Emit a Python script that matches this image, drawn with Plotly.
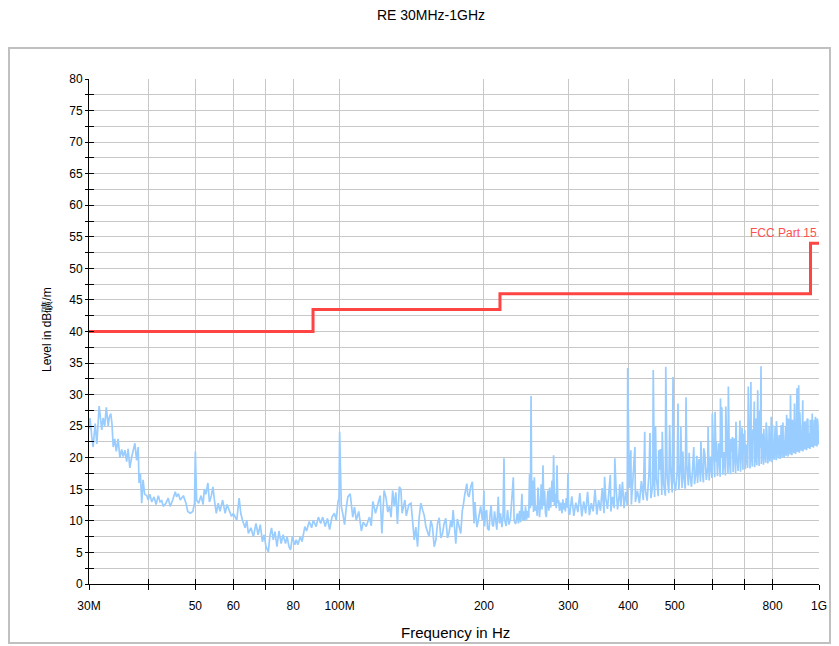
import math
import plotly.graph_objects as go

# ---------------- data ----------------
# 30 - 100 MHz
freq_a = [30.0, 30.15, 30.4, 30.6, 30.9, 31.15, 31.5, 31.75, 31.9, 32.1, 32.35, 32.6, 32.9, 33.05, 33.3, 33.5,
          33.7, 33.95, 34.2, 34.5, 34.8, 35.1, 35.35, 35.65, 35.95, 36.2, 36.5, 36.8, 37.1, 37.4, 37.7, 38.0,
          38.15, 38.4, 38.65, 38.9, 39.2, 39.6, 39.85, 40.2, 40.55, 41.0, 41.4, 41.85, 42.2, 42.55, 42.85,
          43.4, 43.9, 44.3, 44.85, 45.4, 45.7, 46.1, 46.5, 47.2, 47.8, 48.2, 48.8, 49.4, 49.8, 50.0, 50.3,
          50.8, 51.4, 51.9, 52.2, 52.6, 53.1, 53.5, 54.0, 54.4, 54.8, 55.3, 55.8, 56.3, 57.0, 57.7, 58.2,
          58.9, 59.5, 60.0, 61.0, 61.7, 62.2, 62.7, 63.5, 64.0, 64.5, 65.3, 66.1, 66.9, 67.6, 68.3, 69.0,
          69.6, 70.2, 71.0, 71.5, 72.1, 72.7, 73.3, 74.0, 74.7, 75.5, 76.2, 77.1, 77.7, 78.4, 79.0, 79.7,
          80.6, 81.2, 81.8, 82.8, 83.5, 84.6, 85.3, 86.4, 87.4, 88.1, 89.3, 90.3, 91.3, 92.2, 93.3, 94.3,
          95.3, 96.4, 97.5, 98.4, 99.2, 99.7, 100.0]
level_a = [24.6, 26.3, 23.4, 21.7, 25.4, 22.2, 28.2, 25.0, 24.4, 26.3, 25.0, 28.0, 25.0, 26.3, 27.0, 25.4,
           21.7, 23.0, 21.0, 23.0, 20.0, 21.3, 20.2, 21.2, 19.4, 21.4, 18.4, 20.0, 21.0, 22.3, 19.6, 21.7,
           16.0, 17.5, 12.8, 16.5, 14.2, 14.0, 13.3, 14.2, 13.0, 13.8, 12.6, 14.0, 13.0, 13.2, 12.3,
           12.8, 13.6, 12.3, 13.3, 14.6, 13.8, 14.3, 13.3, 14.0, 12.8, 11.5, 11.2, 11.5, 12.8, 21.0, 13.3,
           12.8, 14.0, 12.6, 15.0, 14.2, 16.0, 13.0, 14.0, 15.4, 13.3, 11.2, 12.8, 11.5, 13.3, 11.2, 12.6,
           11.5, 10.7, 11.2, 10.1, 13.6, 11.2, 10.1, 8.9, 10.1, 8.0, 8.9, 7.5, 9.6, 7.8, 9.4, 6.7,
           7.8, 5.9, 5.1, 7.5, 8.9, 7.0, 8.3, 5.9, 8.4, 6.4, 7.8, 6.4, 7.5, 5.9, 5.4, 7.5,
           6.2, 7.0, 6.2, 7.5, 6.7, 9.1, 8.4, 9.9, 8.9, 10.1, 9.1, 10.6, 9.6, 10.6, 9.1, 10.4,
           8.6, 10.6, 11.2, 10.1, 13.0, 13.6, 24.1]

# 100 - 200 MHz
freq_b = [100.8, 101.6, 102.4, 103.2, 104.0, 105.2, 106.5, 107.4, 108.3, 109.6, 111.0, 112.0, 113.6, 115.4,
          116.4, 117.3, 118.8, 120.5, 121.5, 122.5, 123.8, 125.0, 126.0, 127.0, 128.0, 129.0, 130.0, 131.0,
          132.0, 133.2, 134.2, 135.0, 136.0, 136.8, 137.7, 138.6, 139.5, 140.9, 142.0, 143.1, 144.2, 145.4,
          146.5, 147.7, 149.0, 150.2, 151.3, 152.5, 153.7, 155.0, 156.2, 157.5, 158.8, 160.0, 161.3, 162.6,
          163.9, 165.2, 166.5, 167.9, 169.2, 170.6, 171.5, 172.5, 173.6, 174.7, 176.0, 177.5, 178.9, 180.3,
          181.0, 182.5, 184.2, 185.0, 186.2, 187.7, 189.2, 190.7, 191.5, 192.2, 193.4, 194.6, 195.8, 196.9,
          198.5, 199.2]
level_b = [12.3, 11.0, 9.4, 12.0, 13.8, 14.3, 10.6, 12.2, 10.1, 11.5, 8.4, 9.8, 9.1, 10.6,
           9.2, 13.1, 11.2, 13.0, 14.0, 8.0, 14.8, 13.6, 11.4, 12.3, 10.6, 14.8, 12.3, 14.5,
           9.5, 15.4, 15.0, 11.2, 12.6, 13.3, 10.8, 11.7, 12.6, 12.8, 10.1, 7.0, 9.0, 5.9,
           10.5, 12.8, 11.7, 10.8, 9.1, 8.3, 7.5, 10.1, 9.0, 5.9, 7.0, 9.6, 10.5, 7.3,
           8.0, 9.6, 10.4, 7.3, 8.2, 10.1, 9.0, 11.7, 8.5, 6.4, 10.3, 9.1, 8.0, 11.7,
           12.3, 14.3, 15.9, 14.2, 13.8, 15.4, 16.2, 9.6, 13.0, 11.2, 9.0, 10.1, 11.0, 12.3,
           10.1, 11.2]

# 200 - 300 MHz
freq_c = [200.0, 200.6, 201.5, 202.6, 203.5, 204.9, 206.0, 207.0, 208.2, 209.3, 210.4, 211.5, 212.8, 214.2,
          215.4, 216.6, 218.0, 219.2, 220.2, 221.0, 222.5, 224.0, 225.5, 227.2, 228.5, 230.3, 231.2, 232.8,
          234.8, 236.0, 237.4, 238.6, 240.0, 241.0, 242.0, 243.2, 244.2, 245.5, 246.6, 248.0, 249.0, 250.0,
          250.8, 251.6, 252.8, 253.8, 254.8, 256.0, 257.3, 258.3, 259.3, 260.2, 261.2, 262.2, 263.3, 264.4,
          265.6, 266.6, 267.6, 268.8, 269.9, 271.0, 272.0, 273.2, 274.2, 275.6, 277.3, 278.4, 279.5, 280.6,
          281.8, 283.0, 284.1, 285.2, 286.3, 287.5, 289.0, 291.0, 292.2, 293.3, 294.5, 295.7, 297.0, 298.3,
          299.5, 300.5]
level_c = [14.8, 9.1, 11.2, 11.7, 8.8, 8.5, 11.0, 12.5, 9.4, 9.1, 11.5, 10.2, 8.6, 13.8,
           9.6, 11.2, 9.0, 10.8, 19.9, 10.1, 9.2, 11.7, 9.4, 10.4, 12.8, 16.9, 10.1, 9.5,
           11.2, 9.6, 11.6, 9.8, 14.3, 10.1, 11.5, 10.0, 12.3, 10.2, 11.6, 10.5, 17.4, 12.0,
           29.8, 12.5, 16.4, 11.4, 16.9, 11.6, 12.3, 10.8, 15.3, 11.0, 10.6, 12.4, 15.8, 11.8,
           18.8, 12.4, 14.8, 11.2, 10.6, 13.2, 14.8, 11.6, 15.3, 12.1, 16.4, 13.0, 20.4, 12.4,
           14.3, 12.0, 18.8, 12.8, 13.3, 11.6, 12.9, 11.2, 13.4, 11.8, 12.8, 11.5, 13.6, 12.1,
           17.5, 11.2]

# 300 - 400 MHz noise floor
freq_d1 = [302, 305, 308, 311, 314, 317, 320, 323, 326, 329, 332, 335, 338, 341, 344, 347, 350,
           353, 356, 359, 362, 365, 368, 371, 374, 377, 380, 383, 386, 389, 392, 395, 398]
level_d1 = [11.0, 13.9, 10.8, 12.9, 11.4, 14.4, 10.7, 13.1, 11.2, 14.6, 10.9, 12.8, 11.5, 14.9, 11.0, 13.3,
            11.6, 15.2, 11.2, 13.6, 11.9, 15.0, 11.5, 13.8, 12.0, 15.7, 11.8, 14.1, 12.3, 16.2, 12.0,
            14.6, 12.5]

# 400 - 600 MHz noise floor
freq_d2 = [402, 406, 410, 414, 418, 422, 426, 430, 434, 438, 442, 446, 450, 454, 458, 462, 466, 470,
           474, 478, 482, 486, 490, 494, 498, 502, 506, 510, 514, 518, 522, 526, 530, 534, 538, 542,
           546, 550, 554, 558, 562, 566, 570, 574, 578, 582, 586, 590, 594, 598]
level_d2 = [15.2, 12.6, 17.0, 13.0, 14.8, 12.8, 16.3, 13.3, 15.0, 13.2,
            17.6, 13.6, 15.6, 13.8, 16.8, 13.9, 18.1, 14.1, 15.9, 14.0,
            17.3, 14.4, 18.6, 14.5, 16.4, 14.8, 17.9, 14.9, 19.0, 15.2,
            17.2, 15.1, 18.9, 15.6, 17.5, 15.4, 19.6, 15.8, 18.0, 16.0,
            19.8, 16.2, 18.3, 16.1, 20.5, 16.5, 18.6, 16.4, 20.2, 16.8]

# 600 MHz - 1 GHz noise floor
freq_d3 = [602, 606, 610, 614, 618, 622, 626, 630, 634, 638,
           642, 646, 650, 654, 658, 662, 666, 670, 674, 678,
           682, 686, 690, 694, 698, 702, 706, 710, 714, 718,
           722, 726, 730, 734, 738, 742, 746, 750, 754, 758,
           762, 766, 770, 774, 778, 782, 786, 790, 794, 798,
           802, 806, 810, 814, 818, 822, 826, 830, 834, 838,
           842, 846, 850, 854, 858, 862, 866, 870, 874, 878,
           882, 886, 890, 894, 898, 902, 906, 910, 914, 918,
           922, 926, 930, 934, 938, 942, 946, 950, 954, 958,
           962, 966, 970, 974, 978, 982, 986, 990, 994, 998, 1000]
level_d3 = [21.6, 16.9, 19.4, 17.1, 22.3, 17.0, 20.1, 17.3, 20.9, 17.2,
            22.6, 17.5, 19.8, 17.4, 21.0, 17.7, 23.1, 17.6, 20.4, 17.9,
            21.9, 17.8, 23.4, 18.1, 20.6, 18.2, 22.1, 18.4, 24.0, 18.3,
            21.1, 18.6, 22.9, 18.5, 20.8, 18.8, 24.2, 18.7, 21.6, 19.0,
            23.8, 18.9, 21.3, 19.2, 24.5, 19.1, 22.0, 19.4, 23.3, 19.3,
            21.7, 19.7, 24.9, 19.6, 22.4, 19.9, 23.6, 19.8, 25.2, 20.1,
            22.6, 20.0, 24.1, 20.3, 22.9, 20.2, 25.5, 20.5, 23.2, 20.4,
            24.6, 20.7, 22.7, 20.6, 25.8, 20.9, 23.4, 20.8, 24.8, 21.1,
            23.0, 21.0, 25.6, 21.3, 23.6, 21.2, 26.2, 21.5, 23.9, 21.4,
            25.4, 21.7, 23.5, 21.6, 26.0, 21.9, 24.2, 21.8, 25.7, 22.1, 23.5]

# 300 MHz - 1 GHz, narrowband emissions
freq_s = [357, 367, 375, 384, 399, 405, 413, 431, 433, 444, 451, 456, 463, 467, 471, 479, 488, 496, 508,
          515, 520, 528, 536, 548, 556, 567, 575, 587, 599, 607, 611, 623, 627, 639, 647, 655, 660, 671,
          684, 691, 695, 700, 712, 716, 721, 728, 733, 739, 745, 752, 757, 767, 776, 787, 795, 800, 815,
          841, 852, 856, 863, 872, 880, 889, 900, 907, 912, 925, 935, 944, 948, 959, 968, 983, 992]
level_s = [17.0, 17.3, 19.9, 15.8, 34.2, 21.2, 21.7, 19.8, 24.1, 23.9, 33.9, 24.9, 21.2, 21.4, 24.1, 34.4,
           25.2, 32.8, 28.6, 24.9, 21.0, 29.6, 20.8, 21.7, 20.3, 22.6, 21.5, 24.9, 27.0, 27.3, 22.5, 29.4,
           28.0, 28.1, 31.3, 23.0, 23.3, 25.7, 25.9, 24.8, 23.8, 24.4, 31.3, 26.0, 32.0, 24.5, 28.9, 26.2,
           30.7, 27.4, 34.5, 24.6, 25.6, 25.0, 26.5, 25.2, 25.8, 25.6, 25.0, 26.8, 26.2, 29.9, 26.0, 28.6,
           31.0, 31.5, 27.2, 29.1, 25.8, 25.9, 26.0, 26.0, 27.0, 26.5, 26.2]

# FCC Part 15 limit
limit_freq = [30, 88, 216, 960, 1000]
limit_level = [40, 43.5, 46, 54, 54]
limit_name = "FCC Part 15"

# axis ticks
x_tickvals = [30, 40, 50, 60, 70, 80, 100, 200, 300, 400, 500, 600, 700, 800, 1000]
x_ticktext = ["30M", "", "50", "60", "", "80", "100M", "200", "300", "400", "500", "", "", "800", "1G"]
y_tickvals_minor = [i * 2.5 for i in range(33)]

title_text = "RE 30MHz-1GHz"
x_title = "Frequency in Hz"
y_title = "Level in dB礦/m"

# ---------------- figure ----------------
freq_all = freq_a + freq_b + freq_c + freq_d1 + freq_d2 + freq_d3 + freq_s
level_all = level_a + level_b + level_c + level_d1 + level_d2 + level_d3 + level_s
order = sorted(range(len(freq_all)), key=lambda i: freq_all[i])
xs = [freq_all[i] for i in order]
ys = [level_all[i] for i in order]

FONT = "Arial, 'Liberation Sans', sans-serif"
GRID = "#c8c8c8"
xr = [math.log10(30), math.log10(1000)]

# the page body adds an 8 px offset; the figure is sized so it fills the window exactly
W, H = 831, 638

fig = go.Figure()
fig.add_trace(go.Scatter(x=xs, y=ys, mode="lines", line=dict(color="#99ccff", width=1.7),
                         showlegend=False, hoverinfo="skip"))
fig.add_trace(go.Scatter(x=limit_freq, y=limit_level, mode="lines",
                         line=dict(color="#ff4444", width=3, shape="hv"),
                         showlegend=False, hoverinfo="skip"))
# empty trace to activate the overlay axes (inner tick marks)
fig.add_trace(go.Scatter(x=[], y=[], xaxis="x2", yaxis="y2", showlegend=False, hoverinfo="skip"))

fig.update_layout(
    width=W, height=H,
    margin=dict(l=81, r=20, t=71, b=62),
    paper_bgcolor="white", plot_bgcolor="white",
    font=dict(family=FONT, size=12, color="black"),
    title=dict(text=title_text, x=(431 - 8) / W, xref="container", xanchor="center",
               y=1 - 7 / H, yref="container", yanchor="middle",
               font=dict(size=14, color="black", family=FONT)),
    xaxis=dict(type="log", range=xr, tickvals=x_tickvals, ticktext=x_ticktext,
               showgrid=True, gridcolor=GRID, gridwidth=1,
               showline=True, linecolor="black", linewidth=1,
               ticks="outside", ticklen=5, tickcolor="black", tickwidth=1,
               ticklabelstandoff=6,
               tickfont=dict(size=12, color="black"), zeroline=False),
    yaxis=dict(range=[0, 80], tick0=0, dtick=5,
               showgrid=True, gridcolor=GRID, gridwidth=1,
               showline=True, linecolor="black", linewidth=1,
               ticks="outside", ticklen=3, tickcolor="black", tickwidth=1,
               tickfont=dict(size=12, color="black"), zeroline=False,
               minor=dict(dtick=2.5, tick0=0, ticks="outside", ticklen=3, tickcolor="black",
                          showgrid=True, gridcolor=GRID, gridwidth=1)),
    xaxis2=dict(type="log", range=xr, overlaying="x", anchor="y2", tickvals=x_tickvals,
                ticks="inside", ticklen=5, tickcolor="black", showticklabels=False,
                showgrid=False, showline=False, zeroline=False),
    yaxis2=dict(range=[0, 80], overlaying="y", anchor="x2", side="left", tickvals=y_tickvals_minor,
                ticks="inside", ticklen=5, tickcolor="black", showticklabels=False,
                showgrid=False, showline=False, zeroline=False),
)

# outer frame
fig.add_shape(type="rect", xref="paper", yref="paper",
              x0=(9 - 89) / 730, x1=(830 - 89) / 730,
              y0=(584 - 643) / 505, y1=(584 - 48) / 505,
              line=dict(color="#c0c0c0", width=2), layer="below")

fig.add_annotation(text=limit_name, x=math.log10(1000), y=54, xref="x", yref="y",
                   xanchor="right", yanchor="bottom", showarrow=False, yshift=1,
                   font=dict(size=12, color="#ff5050", family=FONT))
fig.add_annotation(text=x_title, x=(455 - 89) / 730, y=(584 - 632) / 505, xref="paper", yref="paper",
                   xanchor="center", yanchor="middle", showarrow=False,
                   font=dict(size=15, color="black", family=FONT))
fig.add_annotation(text=y_title, x=(47 - 89) / 730, y=(584 - 330) / 505, xref="paper", yref="paper",
                   xanchor="center", yanchor="middle", showarrow=False, textangle=-90,
                   font=dict(size=12, color="black", family=FONT))

fig.write_html("out.html")
